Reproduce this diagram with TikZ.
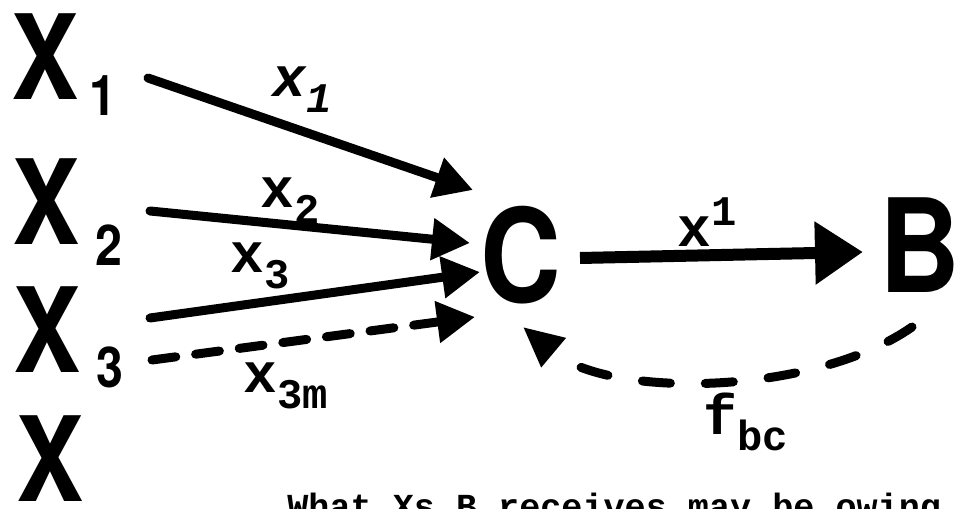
\documentclass[tikz,border=0pt]{standalone}
\usepackage{fontspec}
\usetikzlibrary{arrows.meta}
\newfontfamily\bigsans{TeX Gyre Heros}
\newfontfamily\typefont{Liberation Mono}
\newcommand{\slim}[1]{\scalebox{0.86}[1]{#1}}
\newcommand{\lsub}[2]{#1\raisebox{-9pt}{\fontsize{24}{24}\selectfont #2}}
\newcommand{\lsup}[2]{#1\raisebox{12pt}{\fontsize{24}{24}\selectfont #2}}

\begin{document}
\begin{tikzpicture}[x=0.02cm,y=-0.02cm,
  letter/.style={inner sep=0,font=\bigsans\bfseries\fontsize{67}{67}\selectfont},
  bigletter/.style={inner sep=0,font=\bigsans\bfseries\fontsize{74}{74}\selectfont},
  index/.style={inner sep=0,font=\bigsans\bfseries\fontsize{32}{32}\selectfont},
  flowlabel/.style={inner sep=0,anchor=base west,font=\typefont\bfseries\fontsize{32}{32}\selectfont},
  flow/.style={line width=0.18cm,line cap=round,-{Triangle[length=0.76cm,width=0.8cm]}}]
\useasboundingbox (0,0) rectangle (963,509);
\clip (0,0) rectangle (963,509);
% sources
\node[letter] (X1) at (45,57) {\slim{X}};
\node[index] (n1) at (103,96) {\slim{1}};
\node[letter] (X2) at (46,202) {\slim{X}};
\node[index] (n2) at (109,245) {\slim{2}};
\node[letter] (X3) at (47,330) {\slim{X}};
\node[index] (n3) at (110,367) {\slim{3}};
\node[letter] (X4) at (50,459) {\slim{X}};
% C and B
\node[bigletter] (C) at (521,255) {\slim{C}};
\node[bigletter] (B) at (920,245) {\slim{B}};
% arrow ends
\coordinate (a1) at (148,78);
\coordinate (a2) at (150,211);
\coordinate (a3) at (150,318);
\coordinate (a4) at (152,360);
\coordinate (t1) at (473,190);
\coordinate (t2) at (470,243);
\coordinate (t3) at (480,272);
\coordinate (t4) at (475,317);
\coordinate (cb1) at (580,258);
\coordinate (cb2) at (863,252);
\coordinate (bc1) at (912,327);
\coordinate (bc2) at (523,327);
\draw[flow] (a1) -- (t1);
\draw[flow] (a2) -- (t2);
\draw[flow] (a3) -- (t3);
\draw[flow,dash pattern=on 0.48cm off 0.4cm] (a4) -- (t4);
\draw[line width=0.24cm,-{Triangle[length=0.96cm,width=1.2cm]}] (cb1) -- (cb2);
\draw[line width=0.18cm,line cap=round,dash pattern=on 0.56cm off 0.7cm,
  -{Triangle[length=0.8cm,width=0.72cm]}]
  (bc1) .. controls (815,395) and (610,400) .. (bc2);
% labels
\node[flowlabel] (l1) at (272,97) {\itshape\lsub{x}{1}};
\node[flowlabel] (l2) at (260,208) {\lsub{x}{2}};
\node[flowlabel] (l3) at (230,273) {\lsub{x}{3}};
\node[flowlabel] (l4) at (243,393) {\lsub{x}{3m}};
\node[flowlabel] (l5) at (677,247) {\lsup{x}{1}};
\node[flowlabel] (l6) at (703,435) {\lsub{f}{bc}};
\node[inner sep=0,anchor=base west,font=\typefont\bfseries\fontsize{20}{20}\selectfont]
  (note) at (287,518) {What Xs B receives may be owing};
\end{tikzpicture}
\end{document}
